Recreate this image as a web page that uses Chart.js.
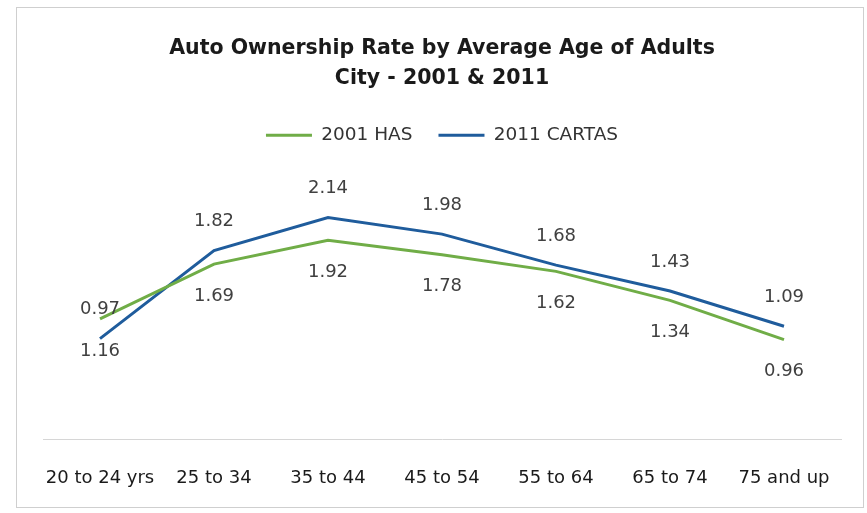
<!DOCTYPE html>
<html>
<head>
<meta charset="utf-8">
<title>Auto Ownership Rate by Average Age of Adults</title>
<script src="https://cdn.jsdelivr.net/npm/chart.js@4"></script>
<style>
  html, body { margin: 0; padding: 0; background: #ffffff; }
  canvas { display: block; }
</style>
</head>
<body>
<canvas id="chart" width="867" height="513"></canvas>
<script>
// Age groups and average autos per household for each survey year
const ageGroups = ['20 to 24 yrs', '25 to 34', '35 to 44', '45 to 54', '55 to 64', '65 to 74', '75 and up'];
const has2001 = [1.16, 1.69, 1.92, 1.78, 1.62, 1.34, 0.96];
const cartas2011 = [0.97, 1.82, 2.14, 1.98, 1.68, 1.43, 1.09];
const seriesNames = ['2001 HAS', '2011 CARTAS'];
const titleLines = ['Auto Ownership Rate by Average Age of Adults', 'City - 2001 & 2011'];

const FONT = 'DejaVu Sans';

// Thin frame around the whole chart
const framePlugin = {
  id: 'frame',
  beforeDraw(chart) {
    const ctx = chart.ctx;
    ctx.save();
    ctx.fillStyle = '#ffffff';
    ctx.fillRect(0, 0, chart.width, chart.height);
    ctx.strokeStyle = '#cfcfcf';
    ctx.lineWidth = 1;
    ctx.strokeRect(16.5, 7.5, chart.width - 20, chart.height - 13);
    ctx.restore();
  }
};

// Value labels: 2011 above its line, 2001 below its line
const valueLabelPlugin = {
  id: 'valueLabels',
  afterDatasetsDraw(chart) {
    const ctx = chart.ctx;
    ctx.save();
    ctx.font = '18px "' + FONT + '"';
    ctx.fillStyle = '#404040';
    ctx.textAlign = 'center';
    ctx.textBaseline = 'middle';
    chart.data.datasets.forEach((ds, i) => {
      const meta = chart.getDatasetMeta(i);
      const offset = ds.labelOffset;
      meta.data.forEach((pt, j) => {
        ctx.fillText(ds.data[j].toFixed(2), pt.x, pt.y + offset);
      });
    });
    ctx.restore();
  }
};

new Chart(document.getElementById('chart'), {
  type: 'line',
  data: {
    labels: ageGroups,
    datasets: [
      {
        label: seriesNames[0],
        data: has2001,
        borderColor: '#70ad47',
        backgroundColor: '#70ad47',
        borderWidth: 3,
        pointRadius: 0,
        tension: 0,
        labelOffset: 32
      },
      {
        label: seriesNames[1],
        data: cartas2011,
        borderColor: '#1f5c9c',
        backgroundColor: '#1f5c9c',
        borderWidth: 3,
        pointRadius: 0,
        tension: 0,
        labelOffset: -29
      }
    ]
  },
  options: {
    responsive: false,
    animation: false,
    layout: { padding: { top: 0, left: 43, right: 26, bottom: -5.6 } },
    plugins: {
      title: {
        display: true,
        text: titleLines,
        color: '#1a1a1a',
        font: { family: FONT, size: 20.5, weight: 'bold', lineHeight: 1.45 },
        padding: { top: 34, bottom: 6.5 }
      },
      legend: {
        display: true,
        position: 'top',
        labels: {
          usePointStyle: true,
          pointStyle: 'line',
          pointStyleWidth: 46,
          padding: 26,
          color: '#333333',
          font: { family: FONT, size: 18.5 }
        }
      },
      tooltip: { enabled: false }
    },
    scales: {
      x: {
        offset: true,
        grid: { display: false, drawTicks: false },
        border: { display: true, color: '#d6d6d6', width: 1 },
        ticks: {
          padding: 29,
          color: '#1a1a1a',
          font: { family: FONT, size: 18 },
          maxRotation: 0,
          autoSkip: false
        }
      },
      y: {
        display: false,
        min: 0,
        max: 2.75
      }
    }
  },
  plugins: [framePlugin, valueLabelPlugin]
});
</script>
</body>
</html>
